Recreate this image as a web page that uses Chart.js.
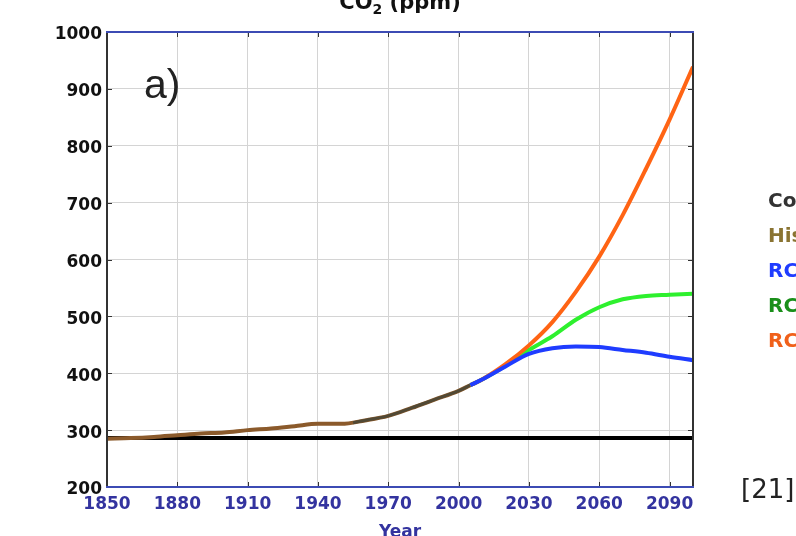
<!DOCTYPE html>
<html>
<head>
<meta charset="utf-8">
<script src="https://cdn.jsdelivr.net/npm/chart.js@4"></script>
<style>
  html, body { margin: 0; padding: 0; background: #ffffff; }
  #wrap { width: 796px; height: 536px; position: relative; }
</style>
</head>
<body>
<div id="wrap"><canvas id="c" width="796" height="536"></canvas></div>
<script>
// ---- data ----
const xTicks = [1850, 1880, 1910, 1940, 1970, 2000, 2030, 2060, 2090];
const yTicks = [200, 300, 400, 500, 600, 700, 800, 900, 1000];

const controlYears = [1850, 2100];
const controlCO2   = [286, 286];

const histYears = [1850,1860,1870,1880,1890,1900,1910,1920,1930,1940,1950,1960,1970,1980,1990,2000,2005];
const histCO2   = [285, 286, 288, 291, 294, 296, 300, 303, 307, 311, 311, 317, 325, 339, 354, 369, 379];

const concYears = [1955, 1960, 1970, 1980, 1990, 2000, 2005];
const concCO2   = [313, 317, 325, 339, 354, 369, 379];

const rcpYears = [2005, 2010, 2020, 2030, 2040, 2050, 2060, 2070, 2080, 2090, 2100];
const rcp26    = [379, 389, 412, 434, 444, 447, 446, 441, 436, 429, 423];
const rcp45    = [379, 389, 413, 441, 465, 494, 516, 530, 536, 538, 540];
const rcp85    = [379, 389, 416, 449, 490, 543, 605, 678, 760, 846, 939];

const legendLabels = ["Control", "Historical", "RCP2.6", "RCP4.5", "RCP8.5"];
const legendColors = ["#333333", "#8a7432", "#1f3cff", "#1a8f1a", "#f0601a"];

function pts(xs, ys) { return xs.map((x, i) => ({ x: x, y: ys[i] })); }

const FONT = "'DejaVu Sans', 'Liberation Sans', sans-serif";

const decor = {
  id: 'decor',
  afterDraw(chart) {
    const ctx = chart.ctx;
    const a = chart.chartArea;
    const xs = chart.scales.x, ys = chart.scales.y;
    ctx.save();
    // inward tick marks
    ctx.strokeStyle = '#333333';
    ctx.lineWidth = 1;
    xTicks.forEach(v => {
      const px = Math.round(xs.getPixelForValue(v)) + 0.5;
      ctx.beginPath();
      ctx.moveTo(px, a.top); ctx.lineTo(px, a.top + 5);
      ctx.moveTo(px, a.bottom); ctx.lineTo(px, a.bottom - 5);
      ctx.stroke();
    });
    yTicks.forEach(v => {
      const py = Math.round(ys.getPixelForValue(v)) + 0.5;
      ctx.beginPath();
      ctx.moveTo(a.left, py); ctx.lineTo(a.left + 5, py);
      ctx.moveTo(a.right, py); ctx.lineTo(a.right - 5, py);
      ctx.stroke();
    });
    // frame
    ctx.lineWidth = 2;
    ctx.strokeStyle = '#333333';
    ctx.beginPath();
    ctx.moveTo(a.left, a.top); ctx.lineTo(a.left, a.bottom);
    ctx.moveTo(a.right, a.top); ctx.lineTo(a.right, a.bottom);
    ctx.stroke();
    ctx.strokeStyle = '#3c4bb4';
    ctx.beginPath();
    ctx.moveTo(a.left - 1, a.top); ctx.lineTo(a.right + 1, a.top);
    ctx.moveTo(a.left - 1, a.bottom); ctx.lineTo(a.right + 1, a.bottom);
    ctx.stroke();

    // title (cut off at top)
    ctx.fillStyle = '#111111';
    ctx.textBaseline = 'alphabetic';
    ctx.textAlign = 'left';
    ctx.font = "bold 21px " + FONT;
    const t1 = "CO";
    const w1 = ctx.measureText(t1).width;
    ctx.font = "bold 14px " + FONT;
    const w2 = ctx.measureText("2").width;
    ctx.font = "bold 21px " + FONT;
    const t3 = " (ppm)";
    const w3 = ctx.measureText(t3).width;
    let tx = 400 - (w1 + w2 + w3) / 2;
    ctx.fillText(t1, tx, 9);
    ctx.font = "bold 14px " + FONT;
    ctx.fillText("2", tx + w1, 14);
    ctx.font = "bold 21px " + FONT;
    ctx.fillText(t3, tx + w1 + w2, 9);

    // panel label
    ctx.font = "41px 'Liberation Sans', Arial, sans-serif";
    ctx.fillStyle = '#222222';
    ctx.fillText("a)", 144, 98);

    // x axis title (cut off at bottom)
    ctx.font = "bold 17px " + FONT;
    ctx.fillStyle = '#33339f';
    ctx.textAlign = 'center';
    ctx.fillText("Year", 400, 537);

    // legend (cut off at right edge)
    ctx.textAlign = 'left';
    ctx.textBaseline = 'middle';
    ctx.font = "bold 20px " + FONT;
    legendLabels.forEach((lab, i) => {
      ctx.fillStyle = legendColors[i];
      ctx.fillText(lab, 768, 202 + i * 35);
    });

    // reference marker
    ctx.font = "26px " + FONT;
    ctx.fillStyle = '#222222';
    ctx.fillText("[21]", 741, 491);
    ctx.restore();
  }
};

const common = { pointRadius: 0, borderWidth: 4, fill: false, cubicInterpolationMode: 'monotone' };

new Chart(document.getElementById('c'), {
  type: 'line',
  data: {
    datasets: [
      Object.assign({ label: 'RCP2.6', data: pts(rcpYears, rcp26), borderColor: '#1f3cff' }, common),
      Object.assign({ label: 'RCP8.5', data: pts(rcpYears, rcp85), borderColor: '#ff6414' }, common),
      Object.assign({ label: 'RCP4.5', data: pts(rcpYears, rcp45), borderColor: '#2ef02e' }, common),
      Object.assign({ label: 'Concentration', data: pts(concYears, concCO2), borderColor: 'rgba(70,70,55,0.85)' }, common, { borderWidth: 3 }),
      Object.assign({ label: 'Historical', data: pts(histYears, histCO2), borderColor: '#8b5a2b' }, common),
      Object.assign({ label: 'Control', data: pts(controlYears, controlCO2), borderColor: '#000000', tension: 0 }, common)
    ]
  },
  options: {
    responsive: false,
    animation: false,
    layout: { padding: { top: 32, right: 103, left: 0, bottom: 0 } },
    plugins: { legend: { display: false }, tooltip: { enabled: false }, title: { display: false } },
    scales: {
      x: {
        type: 'linear', min: 1850, max: 2100,
        afterBuildTicks: (ax) => { ax.ticks = xTicks.map(v => ({ value: v })); },
        afterFit: (ax) => { ax.height = 49; },
        grid: { color: '#d4d4d4', lineWidth: 1, drawTicks: false },
        border: { display: false },
        ticks: { autoSkip: false, maxRotation: 0, padding: 7, color: '#33339f',
                 font: { family: FONT, size: 17, weight: 'bold' },
                 callback: (v) => String(v) }
      },
      y: {
        type: 'linear', min: 200, max: 1000,
        afterBuildTicks: (ax) => { ax.ticks = yTicks.map(v => ({ value: v })); },
        afterFit: (ax) => { ax.width = 107; },
        grid: { color: '#d4d4d4', lineWidth: 1, drawTicks: false },
        border: { display: false },
        ticks: { autoSkip: false, padding: 5, labelOffset: 3, color: '#111111',
                 font: { family: FONT, size: 17, weight: 'bold' },
                 callback: (v) => String(v) }
      }
    }
  },
  plugins: [decor]
});
</script>
</body>
</html>
